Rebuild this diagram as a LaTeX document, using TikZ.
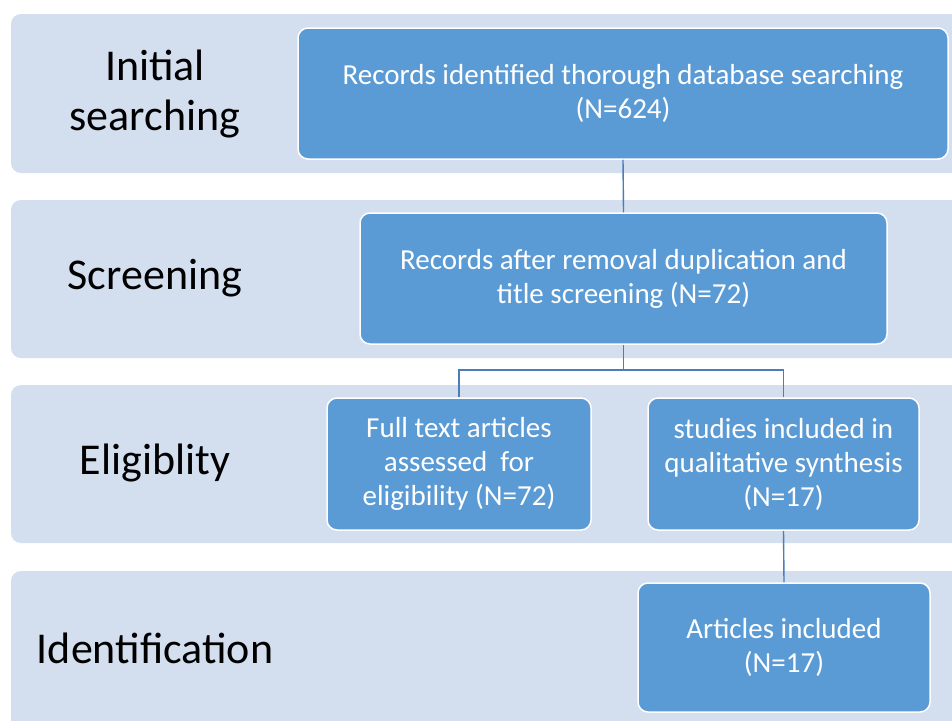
\documentclass[tikz,border=0pt]{standalone}
\usepackage{fontspec}
\setmainfont{Carlito}
\definecolor{bandc}{HTML}{D3DEEF}
\definecolor{boxc}{HTML}{5B9BD5}
\definecolor{linec}{HTML}{4A7EBB}
\tikzset{
  band/.style={fill=bandc, draw=none, rounded corners=10pt},
  stage/.style={text=black, align=center, font=\fontsize{44}{50}\selectfont},
  flowbox/.style={fill=boxc, draw=white, line width=1.5pt, rounded corners=10pt,
    text=white, align=center, font=\fontsize{29}{34}\selectfont, inner sep=0pt},
  conn/.style={draw=linec, line width=1.4pt}
}
\begin{document}
\begin{tikzpicture}[x=1pt,y=-1pt]
\useasboundingbox (0,0) rectangle (952,720);
\clip (0,0) rectangle (952,720);
\fill[white] (0,0) rectangle (952,720);
% bands
\fill[band] (11,14) rectangle (975,173);
\fill[band] (11,200) rectangle (975,358);
\fill[band] (11,385) rectangle (975,543);
\fill[band] (11,571) rectangle (975,735);
% stage labels
\node[stage] (l1) at (155,94) {Initial\\searching};
\node[stage] (l2) at (155,278) {Screening};
\node[stage] (l3) at (155,463) {Eligiblity};
\node[stage] (l4) at (155,648) {Identification};
% boxes
\node[flowbox, minimum width=650pt, minimum height=131pt] (b1) at (623,93.5)
  {Records identified thorough database searching\\(N=624)};
\node[flowbox, minimum width=527pt, minimum height=131pt] (b2) at (623.5,278.5)
  {Records after removal duplication and\\title screening (N=72)};
\node[flowbox, minimum width=264pt, minimum height=132pt] (b3) at (459,464)
  {Full text articles\\assessed\ \ for\\eligibility (N=72)};
\node[flowbox, minimum width=271pt, minimum height=132pt] (b4) at (783.5,464)
  {studies included in\\qualitative synthesis\\(N=17)};
\node[flowbox, minimum width=292pt, minimum height=129pt] (b5) at (784,647.5)
  {Articles included\\(N=17)};
% connectors
\coordinate (j) at (623.5,370);
\draw[conn] (b1.south) -- (b2.north);
\draw[conn] (b2.south) -- (j);
\draw[conn] (j) -| (b3.north);
\draw[conn] (j) -| (b4.north);
\draw[conn] (b4.south) -- (b5.north);
\end{tikzpicture}
\end{document}
